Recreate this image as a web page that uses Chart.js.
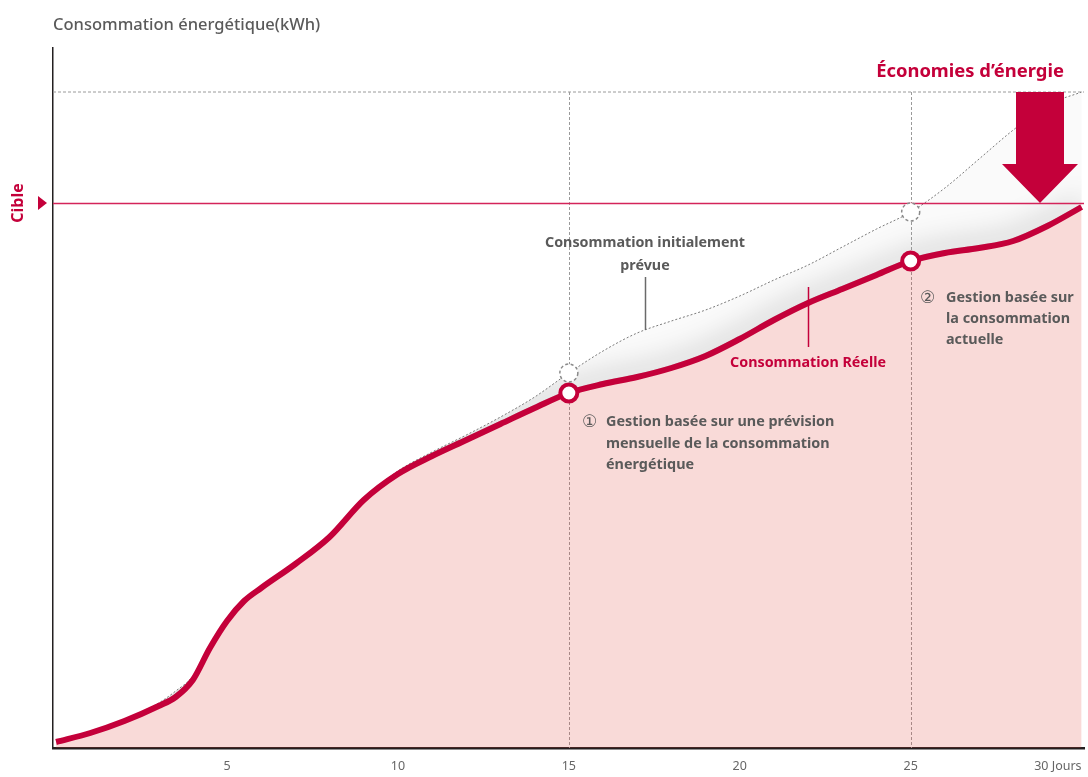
<!DOCTYPE html>
<html><head><meta charset="utf-8">
<script src="https://cdn.jsdelivr.net/npm/chart.js@4/dist/chart.umd.min.js"></script>
<style>html,body{margin:0;padding:0;background:#fff}#wrap{position:relative;width:1088px;height:777px}</style>
</head><body><div id="wrap"><canvas id="c"></canvas></div>
<script>
// ---- data ----
const DAYS = [0,1,2,3,3.5,4,4.5,5,5.5,6,7,8,9,10,11,12,13,14,15,16,17,18,19,20,21,22,23,24,25,26,27,28,29,30];
const ACTUAL = [6,15,27,42,51,68,100,127,147,160,184,211,248,274,292,308,324,340,355,364,371,380,392,409,428,445,459,473,487,495,500,507,522,541];
const PLANNED = [7,16,28,45,57,72,103,128,148,161,185,212,249,277,296,313,331,351,375,397,415,427,438,452,468,483,501,519,536,560,589,618,643,656];
const TICK_DAYS = [0,5,10,15,20,25,30];
const TICK_LABELS = ['','5','10','15','20','25','30 Jours'];
const CHECKPOINT_DAYS = [15,25];
const TARGET = 545;
const PLANNED_TOTAL = 656;
const Y_MAX = 700;

const RED = '#c4003a';
const GRAY_TXT = '#5a5a5a';
const FONT = "'Noto Sans','DejaVu Sans',sans-serif";

const overlay = {
  id: 'overlay',
  beforeDatasetsDraw(chart) {
    const {ctx, chartArea: a, scales: {x, y}} = chart;
    const act = chart.getDatasetMeta(0).dataset;
    const plan = chart.getDatasetMeta(1).dataset;
    act.updateControlPoints(a, 'x');
    plan.updateControlPoints(a, 'x');
    // band between planned and actual
    ctx.save();
    ctx.beginPath();
    plan.segments.forEach(s => plan.pathSegment(ctx, s, {move: true}));
    act.segments.forEach(s => act.pathSegment(ctx, s, {move: false, reverse: true}));
    ctx.closePath();
    ctx.fillStyle = '#fafafa';
    ctx.fill();
    ctx.clip();
    ctx.beginPath();
    act.path(ctx);
    ctx.lineWidth = 6;
    ctx.strokeStyle = '#c4c4c4';
    ctx.shadowColor = 'rgba(0,0,0,0.42)';
    ctx.shadowBlur = 28;
    ctx.shadowOffsetY = -4;
    ctx.stroke();
    ctx.restore();

    // dashed helper lines
    const yTop = y.getPixelForValue(PLANNED_TOTAL);
    ctx.save();
    ctx.strokeStyle = '#9a9a9a';
    ctx.lineWidth = 1;
    ctx.setLineDash([3, 2]);
    ctx.beginPath();
    ctx.moveTo(a.left, yTop); ctx.lineTo(a.right, yTop);
    CHECKPOINT_DAYS.forEach(d => {
      const px = Math.round(x.getPixelForValue(d)) + 0.5;
      ctx.moveTo(px, yTop); ctx.lineTo(px, a.bottom);
    });
    ctx.stroke();
    ctx.restore();
  },
  afterDatasetsDraw(chart) {
    const {ctx, chartArea: a, scales: {x, y}} = chart;
    // target line
    const yT = y.getPixelForValue(TARGET);
    ctx.save();
    ctx.fillStyle = '#d4245a';
    ctx.fillRect(a.left, Math.round(yT) - 0.25, a.right - a.left, 1.5);
    ctx.restore();

    // dashed circles on planned curve
    ctx.save();
    CHECKPOINT_DAYS.forEach(d => {
      const v = PLANNED[DAYS.indexOf(d)];
      const px = x.getPixelForValue(d), py = y.getPixelForValue(v);
      ctx.beginPath();
      ctx.arc(px, py, 9, 0, Math.PI * 2);
      ctx.fillStyle = '#fff';
      ctx.fill();
      ctx.setLineDash([3, 2.5]);
      ctx.strokeStyle = '#8a8a8a';
      ctx.lineWidth = 1.5;
      ctx.stroke();
    });
    ctx.restore();

    // savings arrow
    const yTop = y.getPixelForValue(PLANNED_TOTAL);
    const cx = a.right - 44;
    ctx.save();
    ctx.fillStyle = RED;
    ctx.beginPath();
    ctx.moveTo(cx - 24, yTop);
    ctx.lineTo(cx + 24, yTop);
    ctx.lineTo(cx + 24, yTop + 72);
    ctx.lineTo(cx + 38, yTop + 72);
    ctx.lineTo(cx, yT);
    ctx.lineTo(cx - 38, yTop + 72);
    ctx.lineTo(cx - 24, yTop + 72);
    ctx.closePath();
    ctx.fill();
    ctx.restore();

    ctx.save();
    // title
    ctx.fillStyle = GRAY_TXT;
    ctx.font = `500 16.5px ${FONT}`;
    ctx.textBaseline = 'middle';
    ctx.textAlign = 'left';
    ctx.fillText('Consommation énergétique(kWh)', a.left, 25);

    // savings label
    ctx.fillStyle = RED;
    ctx.font = `bold 18.4px ${FONT}`;
    ctx.textAlign = 'center';
    ctx.fillText('Économies d’énergie', 970, 72);

    // Cible
    ctx.save();
    ctx.translate(18, yT);
    ctx.rotate(-Math.PI / 2);
    ctx.font = `bold 16px ${FONT}`;
    ctx.fillStyle = RED;
    ctx.textAlign = 'center';
    ctx.fillText('Cible', 0, 0);
    ctx.restore();
    ctx.beginPath();
    ctx.moveTo(38, yT - 7); ctx.lineTo(38, yT + 7); ctx.lineTo(47, yT);
    ctx.closePath();
    ctx.fillStyle = RED;
    ctx.fill();

    // planned label
    ctx.fillStyle = GRAY_TXT;
    ctx.font = `bold 14.3px ${FONT}`;
    ctx.textAlign = 'center';
    ctx.fillText('Consommation initialement', 645, 243);
    ctx.fillText('prévue', 645, 266);
    ctx.strokeStyle = '#6a6a6a';
    ctx.lineWidth = 1.5;
    ctx.beginPath(); ctx.moveTo(645.5, 277); ctx.lineTo(645.5, 330); ctx.stroke();

    // actual label
    ctx.fillStyle = RED;
    ctx.fillText('Consommation Réelle', 808, 363);
    ctx.strokeStyle = RED;
    ctx.beginPath(); ctx.moveTo(808.5, 287); ctx.lineTo(808.5, 347); ctx.stroke();

    // checkpoint notes
    ctx.textAlign = 'left';
    ctx.fillStyle = GRAY_TXT;
    ctx.font = `17px 'DejaVu Sans',sans-serif`;
    ctx.fillText('①', 582, 423);
    ctx.fillText('②', 920, 299);
    ctx.font = `bold 14.4px ${FONT}`;
    ['Gestion basée sur une prévision', 'mensuelle de la consommation', 'énergétique']
      .forEach((t, i) => ctx.fillText(t, 606, 422 + i * 21.5));
    ['Gestion basée sur', 'la consommation', 'actuelle']
      .forEach((t, i) => ctx.fillText(t, 946, 298 + i * 21));
    ctx.restore();
  }
};

new Chart(document.getElementById('c'), {
  type: 'line',
  data: {
    datasets: [
      {
        label: 'Consommation Réelle',
        data: DAYS.map((d, i) => ({x: d, y: ACTUAL[i]})),
        borderColor: RED,
        borderWidth: 6,
        cubicInterpolationMode: 'monotone',
        fill: 'origin',
        backgroundColor: 'rgba(225,70,60,0.2)',
        pointRadius: c => (c.raw && CHECKPOINT_DAYS.includes(c.raw.x)) ? 8.5 : 0,
        pointBorderWidth: 4,
        pointBorderColor: RED,
        pointBackgroundColor: '#fff',
        pointHoverRadius: 0,
        borderCapStyle: 'butt'
      },
      {
        label: 'Consommation initialement prévue',
        data: DAYS.map((d, i) => ({x: d, y: PLANNED[i]})),
        borderColor: '#7a7a7a',
        borderWidth: 1,
        borderDash: [2, 2],
        cubicInterpolationMode: 'monotone',
        fill: false,
        pointRadius: 0
      }
    ]
  },
  options: {
    responsive: true,
    maintainAspectRatio: false,
    animation: false,
    events: [],
    layout: {padding: {left: 53, right: 4, top: 48, bottom: 0}},
    plugins: {legend: {display: false}, tooltip: {enabled: false}},
    scales: {
      x: {
        type: 'linear', min: -0.09, max: 30.07,
        afterBuildTicks: s => { s.ticks = TICK_DAYS.map(v => ({value: v})); },
        afterFit: s => { s.height = 29; s.paddingLeft = 0; s.paddingRight = 0; },
        grid: {display: false, drawTicks: false},
        border: {display: true, color: '#231f20', width: 2.5},
        ticks: {
          align: 'inner',
          padding: 11,
          color: '#666',
          font: {family: FONT, size: 12.5},
          callback: v => TICK_LABELS[TICK_DAYS.indexOf(v)] ?? ''
        }
      },
      y: {
        min: 0, max: Y_MAX,
        afterFit: s => { s.width = 0; s.paddingTop = 0; s.paddingBottom = 0; },
        grid: {display: false, drawTicks: false},
        border: {display: true, color: '#231f20', width: 1.5},
        ticks: {display: false}
      }
    }
  },
  plugins: [overlay]
});
</script></body></html>
